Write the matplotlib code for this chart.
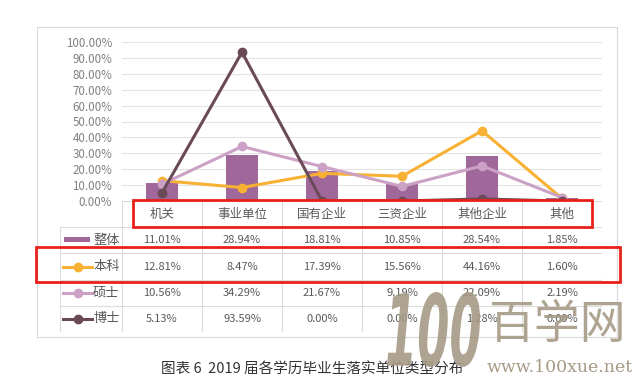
import matplotlib.pyplot as plt
from matplotlib.patches import Rectangle, PathPatch
from matplotlib.lines import Line2D
from matplotlib.textpath import TextPath
from matplotlib.font_manager import FontProperties
from matplotlib.transforms import Affine2D
import numpy as np

plt.rcParams['font.family'] = ['Noto Sans CJK SC', 'DejaVu Sans']

categories = ["机关", "事业单位", "国有企业", "三资企业", "其他企业", "其他"]
overall = [11.01, 28.94, 18.81, 10.85, 28.54, 1.85]
bachelor = [12.81, 8.47, 17.39, 15.56, 44.16, 1.60]
master = [10.56, 34.29, 21.67, 9.19, 22.09, 2.19]
doctor = [5.13, 93.59, 0.00, 0.00, 1.28, 0.00]

series_names = ["整体", "本科", "硕士", "博士"]
series_values = [overall, bachelor, master, doctor]
colors = ["#A0679A", "#F8B133", "#CBA2C6", "#6B4A58"]
yticks = [0, 10, 20, 30, 40, 50, 60, 70, 80, 90, 100]

W, H = 640, 392
fig = plt.figure(figsize=(W / 100, H / 100), dpi=100)


def fx(px):
    return px / W


def fy(py):
    return 1 - py / H


# outer chart frame
fig.patches.append(Rectangle((fx(37), fy(337)), fx(580), 310 / H, transform=fig.transFigure,
                             fill=False, edgecolor="#D9D9D9", linewidth=0.8))

# main plot area
ax = fig.add_axes([fx(122), fy(201), fx(480), 159 / H])
x = np.arange(len(categories))
ax.bar(x, overall, width=0.39, color=colors[0], zorder=2)
for i in range(1, 4):
    ax.plot(x, series_values[i], color=colors[i], linewidth=2.2, marker="o",
            markersize=6, zorder=2 + i)
ax.set_xlim(-0.5, len(categories) - 0.5)
ax.set_ylim(0, 100)
ax.set_yticks(yticks)
ax.set_yticklabels([f"{v:.2f}%" for v in yticks], color="#808080", fontsize=8.3)
ax.set_xticks([])
ax.grid(axis="y", color="#E3E3E3", linewidth=0.8)
ax.set_axisbelow(True)
ax.tick_params(axis="y", length=0, pad=7)
for s in ax.spines.values():
    s.set_visible(False)

# data table below the plot
tab = fig.add_axes([fx(60), fy(332), fx(542), 131 / H])
leg_w = 62 / 80
tab.set_xlim(-0.5 - leg_w, len(categories) - 0.5)
tab.set_ylim(5, 0)
tab.axis("off")
line_kw = dict(color="#DCDCDC", linewidth=0.8)
tab.plot([-0.5, 5.5], [0, 0], **line_kw)
for r in range(1, 6):
    tab.plot([-0.5 - leg_w, 5.5], [r, r], **line_kw)
for c in range(7):
    tab.plot([c - 0.5, c - 0.5], [0, 5], **line_kw)
tab.plot([-0.5 - leg_w, -0.5 - leg_w], [1, 5], **line_kw)

for j, cat in enumerate(categories):
    tab.text(j, 0.5, cat, ha="center", va="center", fontsize=9, color="#595959")
for i, (name, vals) in enumerate(zip(series_names, series_values)):
    row = i + 1.5
    for j, v in enumerate(vals):
        tab.text(j, row, f"{v:.2f}%", ha="center", va="center", fontsize=8, color="#595959")
    tab.text(-0.5 - 0.03, row, name, ha="right", va="center", fontsize=9.5, color="#595959")
    lx0, lx1 = -0.5 - leg_w + 0.04, -0.5 - leg_w + 0.4
    if i == 0:
        tab.add_patch(Rectangle((lx0 + 0.01, row - 0.14), lx1 - lx0 - 0.03, 0.22,
                                color=colors[0], linewidth=0))
    else:
        tab.add_line(Line2D([lx0, lx1], [row, row], color=colors[i], linewidth=2.2))
        tab.plot([(lx0 + lx1) / 2], [row], marker="o", markersize=6, color=colors[i])

# red highlight boxes
fig.patches.append(Rectangle((fx(133), fy(227)), fx(459), 27 / H, transform=fig.transFigure,
                             fill=False, edgecolor="#E8201A", linewidth=2, zorder=10))
fig.patches.append(Rectangle((fx(36), fy(282)), fx(584), 35 / H, transform=fig.transFigure,
                             fill=False, edgecolor="#E8201A", linewidth=2, zorder=10))

# caption
fig.text(fx(312), fy(369), "图表 6  2019 届各学历毕业生落实单位类型分布", ha="center", va="center",
         fontsize=10.5, color="#333333")

# watermark: tall narrow "100" logo, then 百学网 and the url
wm = "#A69A86"
tp = TextPath((0, 0), "100", size=1,
              prop=FontProperties(family="DejaVu Sans", weight="bold", style="italic"))
bb = tp.get_extents()
logo_tr = (Affine2D().translate(-bb.x0, -bb.y0)
           .scale(93 / bb.width / W, 75 / bb.height / H)
           .translate(fx(387), fy(367)))
fig.patches.append(PathPatch(tp, transform=logo_tr + fig.transFigure, facecolor=wm,
                             edgecolor="none", alpha=0.9, zorder=20))
fig.text(fx(557), fy(325), "百学网", ha="center", va="center", fontsize=33, color=wm, alpha=0.9)
fig.text(fx(560), fy(368), "www.100xue.net", ha="center", va="center", fontsize=12.5,
         color=wm, family="DejaVu Serif")

fig.savefig("out.png", dpi=100, facecolor="white")
